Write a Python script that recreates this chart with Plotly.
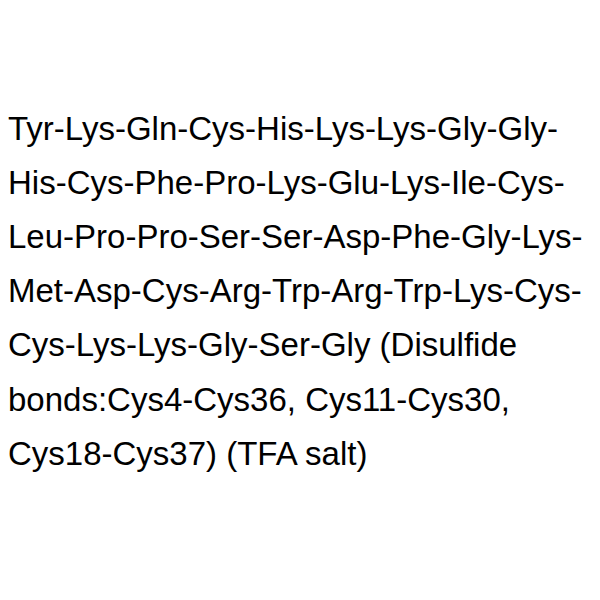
import plotly.graph_objects as go

lines = [
    "Tyr-Lys-Gln-Cys-His-Lys-Lys-Gly-Gly-",
    "His-Cys-Phe-Pro-Lys-Glu-Lys-Ile-Cys-",
    "Leu-Pro-Pro-Ser-Ser-Asp-Phe-Gly-Lys-",
    "Met-Asp-Cys-Arg-Trp-Arg-Trp-Lys-Cys-",
    "Cys-Lys-Lys-Gly-Ser-Gly (Disulfide",
    "bonds:Cys4-Cys36, Cys11-Cys30,",
    "Cys18-Cys37) (TFA salt)",
]
row = list(range(len(lines)))

fig = go.Figure(go.Scatter(x=[0, 1], y=[row[0], row[-1]], mode="markers",
                           marker=dict(opacity=0), hoverinfo="skip"))
for r, t in zip(row, lines):
    fig.add_annotation(
        x=0, xref="paper", xanchor="left",
        y=r, yref="y", yanchor="middle",
        text=t, showarrow=False, borderpad=0, borderwidth=0,
        font=dict(family="Liberation Sans, Arial", size=33, color="black"),
    )
top_px, step = 120, 54.2
fig.update_layout(
    width=600, height=600, margin=dict(l=0, r=0, t=0, b=0),
    paper_bgcolor="white", plot_bgcolor="white", showlegend=False,
    xaxis=dict(range=[0, 1], visible=False, fixedrange=True),
    yaxis=dict(range=[(600 - top_px) / step, -top_px / step], visible=False, fixedrange=True),
)
fig.write_html("out.html")
